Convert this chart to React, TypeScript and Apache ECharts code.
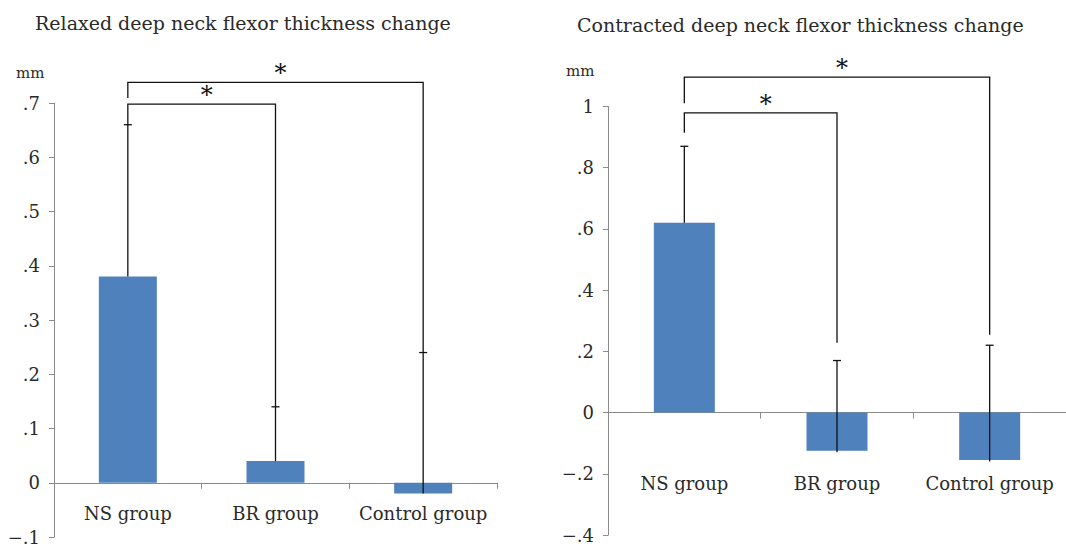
import React, { useEffect, useRef } from "react";
import * as echarts from "echarts";

const categories = ["NS group", "BR group", "Control group"];

const relaxedMeans = [0.38, 0.04, -0.02];
const relaxedErrTop = [0.66, 0.14, 0.24];
// [fromCategory, toCategory, bracketLevel, leftEnd, rightEnd, label]
const relaxedBrackets: [number, number, number, number, number, string][] = [
  [0, 1, 0.698, 0.66, 0.14, "*"],
  [0, 2, 0.738, 0.709, 0.24, "*"],
];

const contractedMeans = [0.62, -0.125, -0.155];
const contractedErrLow = [0.62, -0.13, -0.16];
const contractedErrTop = [0.87, 0.17, 0.22];
const contractedBrackets: [number, number, number, number, number, string][] = [
  [0, 1, 0.979, 0.914, 0.228, "*"],
  [0, 2, 1.096, 1.011, 0.254, "*"],
];

const relaxedTicks = { min: -0.1, max: 0.7, interval: 0.1 };
const contractedTicks = { min: -0.4, max: 1, interval: 0.2 };

const FONT = "DejaVu Serif";
const TEXT = "#2a2a2a";
const AXIS = "#8a8a8a";
const BAR = "#4f81bd";
const INK = "#111111";

function fmt(v: number): string {
  if (Math.abs(v) < 1e-9) return "0";
  const a = Math.abs(v);
  const s = Math.abs(a - Math.round(a)) < 1e-9 ? String(Math.round(a)) : a.toFixed(1).replace(/^0/, "");
  return (v < 0 ? "\u2212" : "") + s;
}

function errorSeries(idx: number, low: number[], high: number[]) {
  return {
    type: "custom",
    xAxisIndex: idx,
    yAxisIndex: idx,
    clip: false,
    z: 5,
    data: categories.map((_, i) => [i, low[i], high[i]]),
    renderItem: (params: any, api: any) => {
      const x = api.value(0);
      const p1 = api.coord([x, api.value(1)]);
      const p2 = api.coord([x, api.value(2)]);
      const st = { stroke: INK, lineWidth: 1.3 };
      return {
        type: "group",
        children: [
          { type: "line", shape: { x1: p1[0], y1: p1[1], x2: p2[0], y2: p2[1] }, style: st },
          { type: "line", shape: { x1: p2[0] - 4, y1: p2[1], x2: p2[0] + 4, y2: p2[1] }, style: st },
        ],
      };
    },
  };
}

function bracketSeries(idx: number, brackets: [number, number, number, number, number, string][]) {
  return {
    type: "custom",
    xAxisIndex: idx,
    yAxisIndex: idx,
    clip: false,
    z: 6,
    data: brackets.map((b) => [b[0], b[1], b[2], b[3], b[4]]),
    renderItem: (params: any, api: any) => {
      const b = brackets[params.dataIndex];
      const a = api.value(0);
      const c = api.value(1);
      const lvl = api.value(2);
      const pl = api.coord([a, lvl]);
      const pr = api.coord([c, lvl]);
      const le = api.coord([a, api.value(3)]);
      const re = api.coord([c, api.value(4)]);
      const st = { stroke: INK, lineWidth: 1.3 };
      return {
        type: "group",
        children: [
          { type: "polyline", shape: { points: [[le[0], le[1]], [pl[0], pl[1]], [pr[0], pr[1]], [re[0], re[1]]] }, style: { ...st, fill: "none" } },
          {
            type: "text",
            x: (pl[0] + pr[0]) / 2 + 5,
            y: pl[1] + 3,
            style: { text: b[5], fontSize: 24, fontFamily: FONT, fill: INK, align: "center", verticalAlign: "bottom" },
          },
        ],
      };
    },
  };
}

function xAxisCfg(idx: number, margin: number) {
  return {
    type: "category",
    gridIndex: idx,
    data: categories,
    axisLine: { onZero: true, lineStyle: { color: AXIS, width: 1 } },
    axisTick: { show: true, length: 6, lineStyle: { color: AXIS } },
    axisLabel: { margin, interval: 0, hideOverlap: false, color: TEXT, fontFamily: FONT, fontSize: 18 },
    splitLine: { show: false },
  };
}

function yAxisCfg(idx: number, t: { min: number; max: number; interval: number }) {
  return {
    type: "value",
    gridIndex: idx,
    min: t.min,
    max: t.max,
    interval: t.interval,
    axisLine: { show: true, lineStyle: { color: AXIS, width: 1 } },
    axisTick: { show: true, length: 5, lineStyle: { color: AXIS } },
    axisLabel: { margin: 14, color: TEXT, fontFamily: FONT, fontSize: 18, formatter: fmt },
    splitLine: { show: false },
  };
}

export default function App() {
  const ref = useRef<HTMLDivElement>(null);
  useEffect(() => {
    if (!ref.current) return;
    const chart = echarts.init(ref.current, null, { renderer: "svg" });
    chart.setOption({
      animation: false,
      backgroundColor: "#ffffff",
      title: [
        { text: "Relaxed deep neck flexor thickness change", left: 30, top: 8, textStyle: { fontFamily: FONT, fontWeight: "normal", fontSize: 19, color: TEXT } },
        { text: "Contracted deep neck flexor thickness change", left: 572, top: 10, textStyle: { fontFamily: FONT, fontWeight: "normal", fontSize: 19, color: TEXT } },
        { text: "mm", left: 11, top: 60, textStyle: { fontFamily: FONT, fontWeight: "normal", fontSize: 15, color: TEXT } },
        { text: "mm", left: 561, top: 58, textStyle: { fontFamily: FONT, fontWeight: "normal", fontSize: 15, color: TEXT } },
      ],
      grid: [
        { left: 54, top: 103, width: 443, height: 434, containLabel: false, outerBoundsMode: "none" },
        { left: 608, top: 106.5, width: 458, height: 428.5, containLabel: false, outerBoundsMode: "none" },
      ],
      xAxis: [xAxisCfg(0, -33), xAxisCfg(1, -61)],
      yAxis: [yAxisCfg(0, relaxedTicks), yAxisCfg(1, contractedTicks)],
      series: [
        { type: "bar", xAxisIndex: 0, yAxisIndex: 0, data: relaxedMeans, barWidth: 58, itemStyle: { color: BAR } },
        { type: "bar", xAxisIndex: 1, yAxisIndex: 1, data: contractedMeans, barWidth: 61, itemStyle: { color: BAR } },
        errorSeries(0, relaxedMeans, relaxedErrTop),
        errorSeries(1, contractedErrLow, contractedErrTop),
        bracketSeries(0, relaxedBrackets),
        bracketSeries(1, contractedBrackets),
      ],
    });
    return () => chart.dispose();
  }, []);
  return <div ref={ref} style={{ position: "fixed", left: 0, top: 0, width: 1066, height: 546 }} />;
}
